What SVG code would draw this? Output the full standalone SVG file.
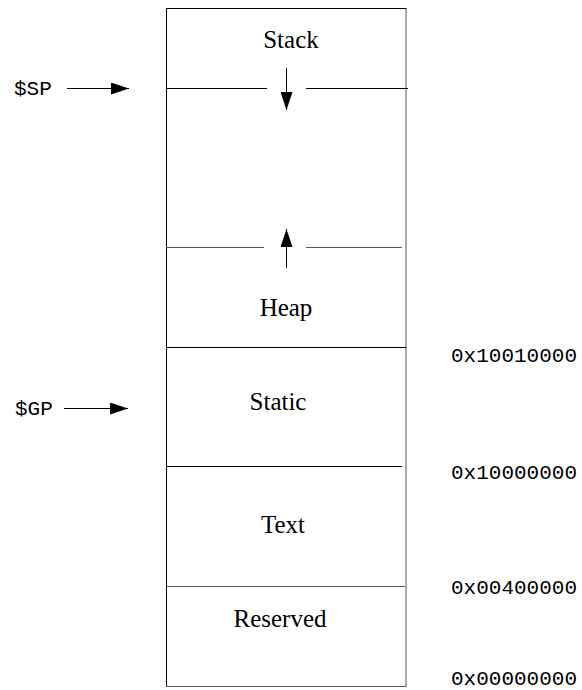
<svg xmlns="http://www.w3.org/2000/svg" width="582" height="690" viewBox="0 0 582 690">
<style>
.seg{font-family:"Liberation Serif","Times New Roman",serif;font-size:25px;fill:#000;text-anchor:middle}
.mono{font-family:"Liberation Mono","Courier New",monospace;font-size:21px;fill:#000}
.ln{stroke:#000;stroke-width:1;fill:none}
.gl{stroke:#555;stroke-width:1;fill:none}
</style>
<defs>
<marker id="ah" viewBox="0 0 18 12" refX="18" refY="6" markerWidth="18" markerHeight="12" markerUnits="userSpaceOnUse" orient="auto">
<path d="M0,0 L18,6 L0,12 Z" fill="#000"/>
</marker>
</defs>
<rect width="582" height="690" fill="#fff"/>
<g id="memory">
<line class="ln" x1="166.5" y1="8.5" x2="406.5" y2="8.5"/>
<line class="ln" x1="166.5" y1="8" x2="166.5" y2="687"/>
<line class="gl" x1="406" y1="8" x2="406" y2="687"/>
<line class="gl" x1="166" y1="686.5" x2="406" y2="686.5"/>
</g>
<g id="stack">
<text class="seg" x="291" y="48">Stack</text>
<line class="ln" x1="166" y1="88.5" x2="267" y2="88.5"/>
<line class="ln" x1="306" y1="88.5" x2="408" y2="88.5"/>
</g>
<g id="heap">
<line class="gl" x1="166" y1="247.5" x2="264" y2="247.5"/>
<line class="gl" x1="306" y1="247.5" x2="402" y2="247.5"/>
<text class="seg" x="286" y="316">Heap</text>
</g>
<g id="static">
<line class="ln" x1="166" y1="347.5" x2="406" y2="347.5"/>
<text class="seg" x="278" y="410">Static</text>
</g>
<g id="text">
<line class="ln" x1="166" y1="466.5" x2="402" y2="466.5"/>
<text class="seg" x="283" y="533">Text</text>
</g>
<g id="reserved">
<line class="gl" x1="166" y1="586.5" x2="405" y2="586.5"/>
<text class="seg" x="280" y="627">Reserved</text>
</g>
<g id="labels">
<text class="mono" x="14" y="95">$SP</text>
<text class="mono" x="15" y="415">$GP</text>
<text class="mono" x="577" y="362" text-anchor="end">0x10010000</text>
<text class="mono" x="577" y="479" text-anchor="end">0x10000000</text>
<text class="mono" x="577" y="594" text-anchor="end">0x00400000</text>
<text class="mono" x="577" y="685" text-anchor="end">0x00000000</text>
</g>
<g id="connectors">
<line class="ln" x1="67" y1="88.5" x2="129" y2="88.5" marker-end="url(#ah)"/>
<line class="ln" x1="64" y1="408.5" x2="128" y2="408.5" marker-end="url(#ah)"/>
<line class="ln" x1="286.5" y1="68" x2="286.5" y2="110" marker-end="url(#ah)"/>
<line class="ln" x1="286.5" y1="268" x2="286.5" y2="229" marker-end="url(#ah)"/>
</g>
</svg>
